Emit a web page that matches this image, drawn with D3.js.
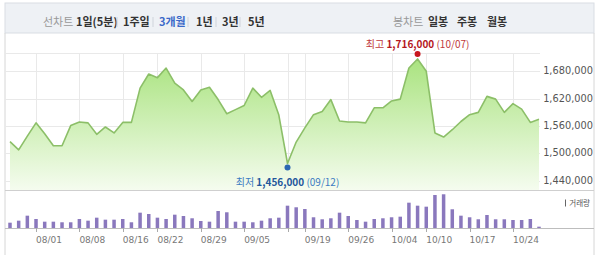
<!DOCTYPE html>
<html>
<head>
<meta charset="utf-8">
<script src="https://cdn.jsdelivr.net/npm/d3@7"></script>
<style>
  html, body { margin: 0; padding: 0; background: #fff; }
  svg { display: block; }
</style>
</head>
<body>
<script>
// trading days shown on the 3-month chart
const dates = [
  '07/27','07/28','07/29',
  '08/01','08/02','08/03','08/04','08/05',
  '08/08','08/09','08/10','08/11','08/12',
  '08/16','08/17','08/18','08/19',
  '08/22','08/23','08/24','08/25','08/26',
  '08/29','08/30','08/31','09/01','09/02',
  '09/05','09/06','09/07','09/08','09/09',
  '09/12','09/13',
  '09/19','09/20','09/21','09/22','09/23',
  '09/26','09/27','09/28','09/29','09/30',
  '10/04','10/05','10/06','10/07',
  '10/10','10/11','10/12','10/13','10/14',
  '10/17','10/18','10/19','10/20','10/21',
  '10/24','10/25','10/26','10/27'
];

// closing price (won)
const closes = [
  1526000, 1508000, 1538000,
  1567000, 1543000, 1517000, 1517000, 1561000,
  1569000, 1567000, 1542000, 1558000, 1545000,
  1568000, 1568000, 1643000, 1674000,
  1666000, 1687000, 1654000, 1639000, 1614000,
  1639000, 1645000, 1618000, 1587000, 1596000,
  1605000, 1643000, 1623000, 1638000, 1584000,
  1478000, 1525000,
  1556000, 1585000, 1592000, 1618000, 1571000,
  1569000, 1569000, 1567000, 1600000, 1600000,
  1615000, 1619000, 1687000, 1707000,
  1680000, 1545000, 1536000, 1552000, 1570000,
  1585000, 1590000, 1625000, 1619000, 1590000,
  1609000, 1597000, 1568000, 1575000
];

// volume (thousand shares)
const volumes = [
  133, 183, 308,
  225, 158, 158, 143, 143,
  225, 183, 258, 208, 208,
  225, 143, 383, 350,
  258, 225, 333, 300, 243,
  175, 158, 425, 393, 158,
  158, 143, 183, 243, 258,
  558, 518,
  475, 268, 218, 243, 383,
  300, 200, 158, 225, 243,
  268, 283, 633, 558,
  533, 825, 843, 468, 308,
  268, 218, 325, 218, 218,
  200, 200, 225, 33
];

const tickDates  = ['08/01','08/08','08/16','08/22','08/29','09/05','09/12','09/19','09/26','10/04','10/10','10/17','10/24'];
const tickLabels = ['08/01','08/08','08/16','08/22','08/29','09/05','',     '09/19','09/26','10/04','10/10','10/17','10/24'];
const priceTicks = [1440000, 1500000, 1560000, 1620000, 1680000];

const highNote = ['최고', '1,716,000', '(10/07)'];
const lowNote  = ['최저', '1,456,000', '(09/12)'];

const lineTabs = ['선차트', '1일(5분)', '1주일', '3개월', '1년', '3년', '5년'];
const candleTabs = ['봉차트', '일봉', '주봉', '월봉'];

// ---- layout ----
const W = 600, H = 255;
const left = 5, right = 594, plotRight = 540;
const priceTop = 53, priceBottom = 190, volBottom = 228;
const KR = '"Noto Sans CJK KR", "Noto Sans", sans-serif';
const NUM = '"DejaVu Sans", "Noto Sans", sans-serif';

const svg = d3.select('body').append('svg')
  .attr('width', W)
  .attr('height', H);

const defs = svg.append('defs');
const grad = defs.append('linearGradient')
  .attr('id', 'areaFill')
  .attr('gradientUnits', 'userSpaceOnUse')
  .attr('x1', 0).attr('x2', 0)
  .attr('y1', priceTop).attr('y2', priceBottom);
grad.append('stop').attr('offset', '0%').attr('stop-color', '#a6e27a');
grad.append('stop').attr('offset', '100%').attr('stop-color', '#f5fcef');

const x = d3.scalePoint()
  .domain(dates)
  .range([10, 539]);

const y = d3.scaleLinear()
  .domain([1420000, 1720000])
  .range([priceBottom, priceTop]);

const yVol = d3.scaleLinear()
  .domain([0, 900])
  .range([volBottom, volBottom - 36]);

// ---- tab bar ----
svg.append('rect')
  .attr('x', left).attr('y', 3)
  .attr('width', right - left).attr('height', 30)
  .attr('fill', '#eef1f5')
  .attr('stroke', '#d9dde3');

const tabX = [43, 76, 123, 159, 196, 222, 248];
const tabSep = [117, 153, 188, 216, 240];
svg.selectAll('.tab')
  .data(lineTabs)
  .enter().append('text')
  .attr('x', (d, i) => tabX[i])
  .attr('y', 22)
  .attr('dy', '0.35em')
  .attr('font-family', KR)
  .attr('font-size', 11)
  .attr('font-weight', (d, i) => i === 0 ? 'normal' : 'bold')
  .attr('fill', (d, i) => i === 0 ? '#999' : (d === '3개월' ? '#3b69c9' : '#333'))
  .text(d => d);

svg.selectAll('.tabsep')
  .data(tabSep)
  .enter().append('line')
  .attr('x1', d => d).attr('x2', d => d)
  .attr('y1', 17).attr('y2', 27)
  .attr('stroke', '#cfd4db');

const candleX = [393, 428, 457, 487];
svg.selectAll('.ctab')
  .data(candleTabs)
  .enter().append('text')
  .attr('x', (d, i) => candleX[i])
  .attr('y', 22)
  .attr('dy', '0.35em')
  .attr('font-family', KR)
  .attr('font-size', 11)
  .attr('font-weight', (d, i) => i === 0 ? 'normal' : 'bold')
  .attr('fill', (d, i) => i === 0 ? '#999' : '#333')
  .text(d => d);

// ---- frame ----
svg.append('line')
  .attr('x1', left).attr('x2', left)
  .attr('y1', 33).attr('y2', H)
  .attr('stroke', '#d6d6d6');
svg.append('line')
  .attr('x1', right).attr('x2', right)
  .attr('y1', 33).attr('y2', H)
  .attr('stroke', '#d6d6d6');

// ---- grid ----
const grid = svg.append('g');
grid.selectAll('.hg')
  .data(priceTicks.concat([1720000]))
  .enter().append('line')
  .attr('x1', left).attr('x2', plotRight)
  .attr('y1', d => Math.round(y(d)) + 0.5)
  .attr('y2', d => Math.round(y(d)) + 0.5)
  .attr('stroke', '#e9e9e9');

grid.selectAll('.vg')
  .data(tickDates)
  .enter().append('line')
  .attr('x1', d => Math.round(x(d)) + 0.5)
  .attr('x2', d => Math.round(x(d)) + 0.5)
  .attr('y1', priceTop).attr('y2', priceBottom)
  .attr('stroke', '#e9e9e9');

// ---- price area + line ----
const series = dates.map((d, i) => ({ date: d, close: closes[i], vol: volumes[i] }));

const area = d3.area()
  .x(d => x(d.date))
  .y0(priceBottom)
  .y1(d => y(d.close));

const line = d3.line()
  .x(d => x(d.date))
  .y(d => y(d.close));

svg.append('path')
  .datum(series)
  .attr('d', area)
  .attr('fill', 'url(#areaFill)');

svg.append('path')
  .datum(series)
  .attr('d', line)
  .attr('fill', 'none')
  .attr('stroke', '#8cbf68')
  .attr('stroke-width', 1.6)
  .attr('stroke-linejoin', 'round');

// ---- y axis labels ----
svg.selectAll('.ylab')
  .data(priceTicks)
  .enter().append('text')
  .attr('x', right - 1)
  .attr('y', d => y(d))
  .attr('dy', '0.3em')
  .attr('text-anchor', 'end')
  .attr('font-family', NUM)
  .attr('font-size', 9.8)
  .attr('fill', '#555')
  .text(d => d3.format(',')(d));

// ---- high / low markers ----
const hi = series.reduce((a, b) => (b.close > a.close ? b : a));
const lo = series.reduce((a, b) => (b.close < a.close ? b : a));

svg.append('circle')
  .attr('cx', x(hi.date)).attr('cy', y(hi.close) - 5)
  .attr('r', 3).attr('fill', '#c8171e');
svg.append('circle')
  .attr('cx', x(lo.date)).attr('cy', y(lo.close) + 4)
  .attr('r', 3).attr('fill', '#2b67b2');

function note(parts, cx, cy, c1, c2) {
  const t = svg.append('text')
    .attr('x', cx).attr('y', cy)
    .attr('text-anchor', 'middle')
    .attr('font-family', KR)
    .attr('font-size', 10)
    .attr('fill', c1);
  t.append('tspan').text(parts[0] + ' ');
  t.append('tspan').attr('font-weight', 'bold').attr('fill', c2).text(parts[1]);
  t.append('tspan').text(' ' + parts[2]);
}
note(highNote, x(hi.date), y(hi.close) - 11, '#c0393c', '#b5171d');
note(lowNote, x(lo.date), y(lo.close) + 22, '#3d7cc2', '#23579b');

// ---- volume ----
svg.append('line')
  .attr('x1', left).attr('x2', right)
  .attr('y1', priceBottom + 0.5).attr('y2', priceBottom + 0.5)
  .attr('stroke', '#cfcfcf');

svg.selectAll('.vbar')
  .data(series)
  .enter().append('rect')
  .attr('x', d => x(d.date) - 1.75)
  .attr('width', 3.5)
  .attr('y', d => yVol(d.vol))
  .attr('height', d => volBottom - yVol(d.vol))
  .attr('fill', '#8a78bd');

svg.append('line')
  .attr('x1', left).attr('x2', right)
  .attr('y1', volBottom + 0.5).attr('y2', volBottom + 0.5)
  .attr('stroke', '#bdbdbd');

svg.append('line')
  .attr('x1', 565.5).attr('x2', 565.5)
  .attr('y1', 199.5).attr('y2', 206.5)
  .attr('stroke', '#666');
svg.append('text')
  .attr('x', 590).attr('y', 203)
  .attr('dy', '0.35em')
  .attr('text-anchor', 'end')
  .attr('font-family', KR)
  .attr('font-size', 7.5)
  .attr('fill', '#555')
  .text('거래량');

// ---- x axis ----
const xt = svg.append('g');
xt.selectAll('.tick')
  .data(tickDates)
  .enter().append('line')
  .attr('x1', d => Math.round(x(d)) + 0.5)
  .attr('x2', d => Math.round(x(d)) + 0.5)
  .attr('y1', volBottom).attr('y2', volBottom + 4)
  .attr('stroke', '#aaa');

xt.selectAll('.tl')
  .data(tickDates)
  .enter().append('text')
  .attr('x', d => x(d))
  .attr('y', 240)
  .attr('dy', '0.35em')
  .attr('font-family', NUM)
  .attr('font-size', 9)
  .attr('fill', '#777')
  .text((d, i) => tickLabels[i]);
</script>
</body>
</html>
